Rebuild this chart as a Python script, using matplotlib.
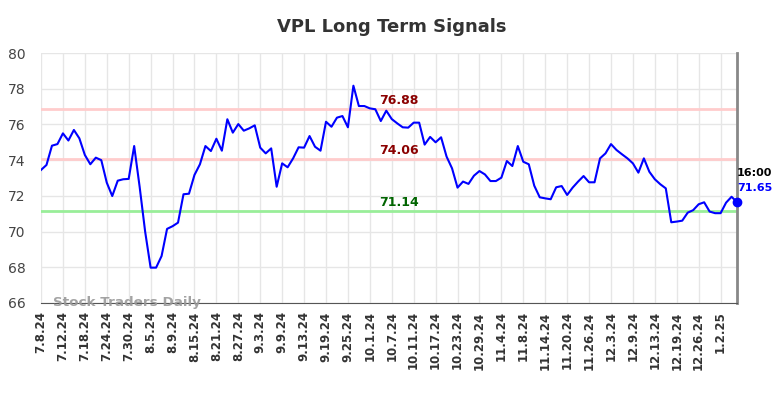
import matplotlib
matplotlib.use('Agg')
import matplotlib.pyplot as plt

# closing prices, one per trading day (7.8.24 .. 1.7.25)
prices = [73.45, 73.73, 74.81, 74.9, 75.5, 75.1, 75.69, 75.22, 74.29, 73.77,
          74.14, 74.0, 72.74, 71.99, 72.85, 72.93, 72.95, 74.79, 72.5, 70.0,
          67.98, 67.98, 68.63, 70.15, 70.3, 70.5, 72.09, 72.12, 73.17, 73.77,
          74.79, 74.51, 75.2, 74.53, 76.29, 75.54, 76.02, 75.65, 75.78, 75.95,
          74.7, 74.38, 74.66, 72.51, 73.82, 73.6, 74.1, 74.72, 74.7, 75.35,
          74.75, 74.53, 76.15, 75.87, 76.38, 76.47, 75.84, 78.17, 77.03, 77.03,
          76.9, 76.85, 76.19, 76.77, 76.3, 76.06, 75.84, 75.82, 76.1, 76.1,
          74.87, 75.3, 75.0, 75.28, 74.2, 73.54, 72.46, 72.8, 72.67, 73.13,
          73.39, 73.2, 72.83, 72.83, 73.02, 73.95, 73.67, 74.79, 73.91, 73.77,
          72.57, 71.92, 71.86, 71.81, 72.48, 72.55, 72.05, 72.46, 72.8, 73.11,
          72.76, 72.76, 74.1, 74.38, 74.9, 74.57, 74.33, 74.1, 73.82, 73.3,
          74.1, 73.35, 72.93, 72.65, 72.42, 70.52, 70.56, 70.61, 71.06, 71.2,
          71.53, 71.64, 71.12, 71.03, 71.03, 71.62, 71.95, 71.65]

tick_labels = ['7.8.24', '7.12.24', '7.18.24', '7.24.24', '7.30.24', '8.5.24',
               '8.9.24', '8.15.24', '8.21.24', '8.27.24', '9.3.24', '9.9.24',
               '9.13.24', '9.19.24', '9.25.24', '10.1.24', '10.7.24', '10.11.24',
               '10.17.24', '10.23.24', '10.29.24', '11.4.24', '11.8.24',
               '11.14.24', '11.20.24', '11.26.24', '12.3.24', '12.9.24',
               '12.13.24', '12.19.24', '12.26.24', '1.2.25']

resistance = [76.88, 74.06]
support = [71.14]
last_time = '16:00'

x = list(range(len(prices)))
ticks = list(range(0, 4 * len(tick_labels), 4))

fig = plt.figure(figsize=(7.84, 3.98), dpi=100)
ax = fig.add_axes([0.0523, 0.2387, 0.8878, 0.6281])

ax.set_xlim(0, len(prices) - 1)
ax.set_ylim(66, 80)
ax.set_yticks(range(66, 81, 2))
ax.set_xticks(ticks)
ax.set_xticklabels(tick_labels, rotation=90, fontsize=8.5, fontweight='bold',
                   color='#333333')
ax.tick_params(axis='y', labelsize=10, colors='#444444', length=0, pad=11)
ax.tick_params(axis='x', length=0, pad=6)
ax.grid(True, color='#e6e6e6', linewidth=1)
ax.set_axisbelow(True)

for s in ['top', 'left']:
    ax.spines[s].set_visible(False)
ax.spines['bottom'].set_color('#555555')
ax.spines['right'].set_color('#888888')
ax.spines['right'].set_linewidth(2)

mid = len(prices) / 2 + 1.3
for v in resistance:
    ax.axhline(v, color='#ffcccc', linewidth=2, zorder=1)
    ax.text(mid, v + 0.12, f'{v:.2f}', color='#8b0000', fontsize=9,
            fontweight='bold', ha='center', va='bottom')
for v in support:
    ax.axhline(v, color='#99ee99', linewidth=2, zorder=1)
    ax.text(mid, v + 0.12, f'{v:.2f}', color='#006400', fontsize=9,
            fontweight='bold', ha='center', va='bottom')

ax.plot(x, prices, color='#0000ff', linewidth=1.5, zorder=3)
ax.plot(x[-1], prices[-1], 'o', color='#0000ff', markersize=6, zorder=4,
        clip_on=False)
ax.text(x[-1], prices[-1] + 1.35, last_time, fontsize=8, fontweight='bold',
        color='black', ha='left', va='bottom')
ax.text(x[-1], prices[-1] + 0.5, f'{prices[-1]:.2f}', fontsize=8,
        fontweight='bold', color='#0000ff', ha='left', va='bottom')

ax.text(2.2, 66.05, 'Stock Traders Daily', fontsize=9.7, fontweight='bold',
        color='#999999', ha='left', va='center', alpha=0.9)

fig.suptitle('VPL Long Term Signals', fontsize=13, fontweight='bold',
             color='#333333', y=0.955)

fig.savefig('out.png', dpi=100)
